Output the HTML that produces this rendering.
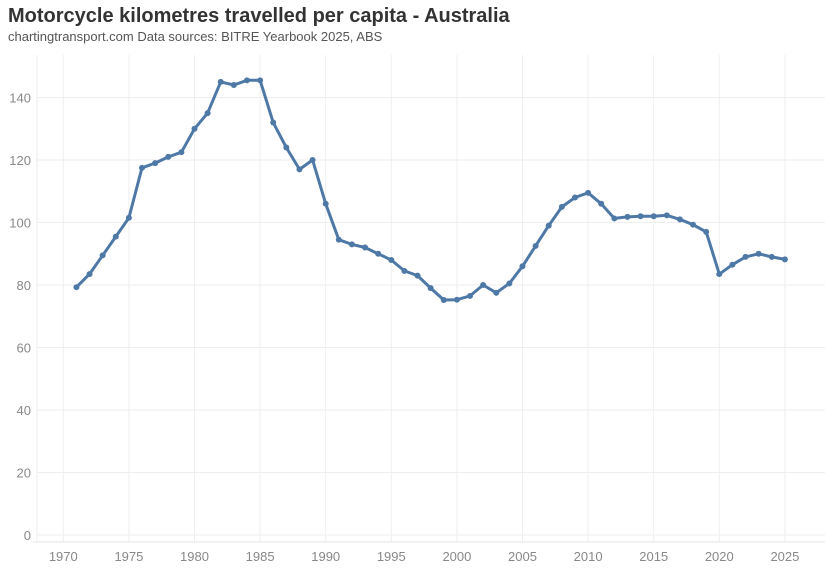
<!DOCTYPE html>
<html><head><meta charset="utf-8"><style>
body{margin:0;background:#fff;width:825px;height:574px;overflow:hidden;font-family:"Liberation Sans",sans-serif}
</style></head><body>
<svg id="s" width="825" height="574" xmlns="http://www.w3.org/2000/svg">
<text x="8" y="22" font-size="20" font-weight="bold" fill="#333">Motorcycle kilometres travelled per capita - Australia</text>
<text x="8" y="41" font-size="13" fill="#555">chartingtransport.com  Data sources: BITRE Yearbook 2025, ABS</text>
<g id="g"></g>
</svg>
<script>
var g=document.getElementById('g'),h='';
function X(y){return 63.3+(y-1970)*13.12}
function Y(v){return 535-v*3.125}
for(var v=0;v<=140;v+=20){var y=Y(v);h+='<line x1="37" x2="825" y1="'+y+'" y2="'+y+'" stroke="#eee"/>';h+='<text x="31" y="'+(y+5)+'" font-size="13" fill="#888" text-anchor="end">'+v+'</text>';}
for(var yr=1970;yr<=2025;yr+=5){var x=X(yr);h+='<line x1="'+x+'" x2="'+x+'" y1="55" y2="542" stroke="#eee"/>';h+='<text x="'+x+'" y="561" font-size="13" fill="#888" text-anchor="middle">'+yr+'</text>';}
h+='<line x1="37" x2="37" y1="55" y2="542" stroke="#eee"/><line x1="33" x2="825" y1="542" y2="542" stroke="#e6e6e6"/>';
var d=[79.3,83.5,89.5,95.5,101.5,117.5,119,121,122.5,130,135,145,144,145.5,145.5,132,124,117,120,106,94.5,93,92,90,88,84.5,83,79,75.2,75.3,76.5,80,77.5,80.5,86,92.5,99,105,108,109.5,106,101.3,101.8,102,102,102.3,101,99.3,97,83.5,86.5,89,90,89,88.2];
var p=d.map(function(v,i){return X(1971+i).toFixed(1)+','+Y(v).toFixed(1)}).join(' ');
h+='<polyline points="'+p+'" fill="none" stroke="#4e79a7" stroke-width="3" stroke-linejoin="round"/>';
d.forEach(function(v,i){h+='<circle cx="'+X(1971+i)+'" cy="'+Y(v)+'" r="3" fill="#4e79a7"/>'});
g.innerHTML=h;
</script>
</body></html>
